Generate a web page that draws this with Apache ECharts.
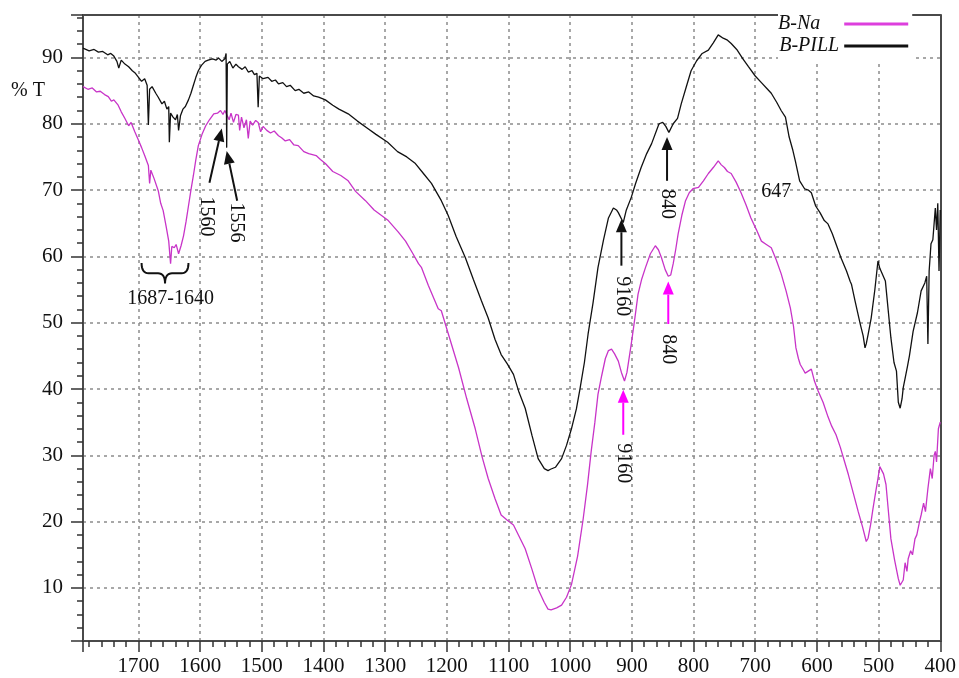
<!DOCTYPE html>
<html><head><meta charset="utf-8">
<script src="https://cdn.jsdelivr.net/npm/echarts@6/dist/echarts.min.js"></script>
<style>html,body{margin:0;padding:0;background:#fff}#c{width:959px;height:678px}</style>
</head><body><div id="c"></div><script>
// ---- data (wavenumber cm-1, % transmittance) ----
const pillWN = [1790,1780,1772,1765,1758,1750,1745,1740,1735,1732,1728,1722,1716,1710,1705,1700,1695,1690,1686,1684,1682,1678,1672,1668,1662,1658,1654,1651,1650,1648,1644,1640,1637,1635,1632,1628,1624,1619,1615,1611,1607,1603,1598,1592,1587,1580,1574,1570,1565,1560,1558,1557,1556,1552,1547,1542,1538,1532,1527,1522,1516,1512,1508,1506,1504,1498,1490,1484,1478,1473,1466,1460,1454,1446,1440,1432,1424,1416,1408,1397,1385,1375,1360,1345,1330,1315,1296,1280,1265,1251,1238,1225,1209,1198,1185,1170,1157,1144,1133,1122,1112,1102,1092,1083,1073,1062,1052,1042,1036,1032,1024,1014,1006,998,990,984,977,971,963,955,946,938,930,925,922,914,909,901,894,885,876,868,856,850,845,840,833,826,820,812,804,795,786,776,768,760,752,745,739,730,720,711,700,690,680,674,665,658,651,645,639,635,628,620,614,609,602,595,588,582,575,568,561,552,546,544,538,530,525,522,520,517,512,506,501,498,495,489,484,480,475,471,468,465,462,460,457,453,450,444,437,431,425,422,420,418,415,412,408,406,404,402,400];
const pillT = [91.4,91.0,91.2,90.8,90.9,90.4,90.6,90.2,89.4,88.4,89.6,89.0,88.6,88.0,87.6,87.0,86.4,86.8,85.8,79.8,85.2,85.6,84.6,84.0,83.0,83.4,82.2,82.6,77.2,81.6,81.0,80.6,81.4,79.0,81.2,82.2,82.6,83.6,84.6,85.8,87.0,88.0,88.8,89.4,89.6,89.8,89.6,89.9,89.4,89.8,90.6,76.4,89.0,89.4,88.4,89.0,88.6,88.2,88.6,87.8,88.0,87.4,87.6,82.5,87.2,86.8,87.0,86.4,86.6,86.0,86.2,85.6,85.8,85.0,85.2,84.6,84.8,84.2,84.0,83.6,82.8,82.2,81.5,80.4,79.4,78.4,77.2,75.8,75.0,74.0,72.5,71.0,68.4,66.2,63.0,59.8,56.5,53.3,50.7,47.5,45.2,43.8,42.2,39.5,37.1,33.0,29.5,28.0,27.7,27.9,28.2,29.5,31.5,34.0,37.0,40.1,44.0,48.3,53.0,58.3,62.5,65.8,67.3,67.0,66.6,65.1,67.0,68.9,71.0,73.4,75.5,77.0,80.0,80.2,79.6,78.7,80.0,80.8,83.0,85.5,88.0,89.5,90.6,91.1,92.2,93.4,92.9,92.6,92.1,91.2,89.8,88.6,87.2,86.2,85.2,84.6,83.2,82.0,81.0,78.0,76.0,74.4,71.4,70.2,70.0,69.6,67.6,66.6,65.4,64.9,63.4,61.6,59.8,57.8,56.2,55.8,53.2,49.9,48.0,46.2,46.8,48.2,50.7,55.0,59.3,58.2,58.0,56.3,51.5,47.7,44.0,42.7,38.0,37.1,38.5,40.2,41.6,43.5,45.0,48.7,51.5,54.8,56.0,57.0,46.8,57.8,61.9,62.5,67.3,64.0,68.0,57.8,67.0];

const naWN = [1790,1782,1775,1768,1762,1755,1749,1744,1740,1733,1728,1722,1716,1712,1706,1700,1695,1690,1684,1682,1680,1675,1668,1664,1660,1655,1651,1649,1648,1646,1642,1639,1635,1631,1627,1623,1619,1615,1611,1607,1603,1597,1591,1585,1578,1572,1567,1563,1560,1557,1553,1550,1546,1542,1538,1536,1533,1529,1525,1522,1519,1515,1510,1506,1502,1498,1492,1486,1480,1473,1468,1462,1455,1448,1441,1432,1424,1412,1405,1397,1385,1372,1360,1348,1332,1318,1295,1279,1267,1255,1246,1241,1230,1214,1209,1195,1181,1168,1154,1143,1133,1122,1112,1102,1092,1083,1073,1062,1052,1042,1036,1031,1022,1014,1006,998,988,979,972,966,960,955,949,943,938,933,928,922,917,912,908,901,895,890,884,878,870,862,857,852,846,841,837,833,829,825,819,813,807,801,792,784,776,768,760,755,750,745,739,731,723,715,707,698,690,682,674,666,658,650,643,638,634,630,627,622,619,614,609,604,598,590,582,576,569,562,555,549,541,533,526,520,517,513,509,505,501,498,496,492,488,484,480,474,468,465,463,460,457,454,452,448,445,441,438,434,431,427,424,420,416,413,410,408,406,403,400];
const naT = [85.6,85.2,85.4,84.8,84.9,84.4,84.1,83.4,83.6,82.8,81.8,80.8,79.7,80.2,78.8,77.5,76.4,75.2,73.7,71.0,73.0,71.8,69.9,68.0,66.9,64.4,62.3,60.0,58.9,61.5,61.3,61.8,60.4,61.6,63.1,65.2,67.6,70.0,72.2,74.6,76.7,78.4,79.7,80.6,81.5,81.6,82.0,81.4,82.0,81.7,80.6,81.6,80.2,81.4,81.3,79.0,81.0,79.4,80.6,77.8,80.4,79.8,80.5,80.2,78.8,79.6,79.0,78.6,78.9,78.2,77.9,77.4,77.6,76.8,76.7,75.8,75.5,75.2,74.6,74.0,72.8,72.2,71.4,69.8,68.4,67.0,65.4,63.7,62.3,60.4,58.9,58.3,55.6,52.1,51.8,47.5,43.2,38.6,34.0,29.8,26.5,23.5,21.0,20.2,19.5,17.8,15.9,12.8,9.8,7.8,6.8,6.7,7.0,7.4,8.6,10.5,14.8,20.4,25.5,30.6,35.0,39.2,42.0,44.6,45.8,46.0,45.3,44.2,42.5,41.2,42.5,46.8,50.8,54.3,56.6,58.3,60.4,61.6,61.0,59.8,58.0,57.0,57.2,58.9,61.0,63.4,66.2,68.4,69.6,70.2,70.4,71.4,72.5,73.4,74.4,73.8,73.4,72.8,72.5,71.2,69.6,67.8,65.8,64.0,62.3,61.8,61.3,59.5,57.4,54.8,52.2,49.5,46.2,44.6,43.7,42.9,42.4,42.7,43.0,41.2,39.7,38.0,35.8,34.4,33.1,31.2,29.0,27.1,24.3,21.5,19.2,17.0,17.5,19.5,22.0,24.3,26.5,28.3,28.6,27.2,25.6,21.5,17.4,14.2,11.4,10.4,10.6,11.2,13.8,12.5,14.4,15.6,15.0,17.4,18.0,19.8,21.0,22.8,21.5,25.0,28.0,26.5,30.0,30.6,29.0,34.0,35.0];

const seriesNames = ['B-Na', 'B-PILL'];
const xTickLabels = [1700,1600,1500,1400,1300,1200,1100,1000,900,800,700,600,500,400];
const yTickLabels = [10,20,30,40,50,60,70,80,90];

// annotations in data coordinates [wavenumber, %T]
const arrows = [
  {from:[1585,71.1], to:[1565,79.3], color:'#111'},
  {from:[1540,68.4], to:[1557,75.9], color:'#111'},
  {from:[917,58.6], to:[917,65.6], color:'#111'},
  {from:[843,71.4], to:[843,78.0], color:'#111'},
  {from:[841,49.8], to:[841,56.2], color:'#ff00ff'},
  {from:[914,33.1], to:[914,39.9], color:'#ff00ff'}
];
const labels = [
  {text:'1560', at:[1590,66.0], rot:true},
  {text:'1556', at:[1541,65.1], rot:true},
  {text:'9160', at:[916,54.0], rot:true},
  {text:'840', at:[843,67.9], rot:true},
  {text:'840', at:[841,46.0], rot:true},
  {text:'9160', at:[914,28.8], rot:true},
  {text:'647', at:[666,69.8], rot:false},
  {text:'1687-1640', at:[1648,53.6], rot:false}
];
const brace = {from:1695, to:1619, top:59.0, tip:55.9};

const FONT = 'Liberation Serif';
const XMIN = 400, XMAX = 1790, YMIN = 2, YMAX = 96.4;
const grid = {left:83, right:16, top:15, bottom:37};
const axisLineStyle = {color:'#4a4a4a', width:2};

const option = {
  animation:false,
  backgroundColor:'#fff',
  grid: grid,
  legend: {
    orient:'vertical', left:778, top:14, align:'right',
    backgroundColor:'#fff', padding:[0,4,4,0], itemGap:2,
    itemWidth:64, itemHeight:3, icon:'rect',
    textStyle:{fontFamily:FONT, fontStyle:'italic', fontSize:20, color:'#111', lineHeight:20},
    data:[
      {name:seriesNames[0], itemStyle:{color:'#dd3fdd'}, textStyle:{padding:[0,19,0,0]}},
      {name:seriesNames[1], itemStyle:{color:'#111'}}
    ]
  },
  xAxis: [
    {type:'value', min:XMIN, max:XMAX, inverse:true, interval:100, position:'bottom',
     axisLine:{show:true, lineStyle:axisLineStyle},
     axisTick:{show:true, length:11, lineStyle:{color:'#333', width:1.5}},
     axisLabel:{margin:15, fontFamily:FONT, fontSize:21, color:'#111',
       formatter: v => xTickLabels.includes(v) ? String(v) : ''},
     splitLine:{show:true, lineStyle:{color:'#8c8c8c', type:[3,4], width:1.5}}},
    {type:'value', min:XMIN, max:XMAX, inverse:true, interval:20, position:'bottom',
     axisLine:{show:false}, axisTick:{show:true, length:6, lineStyle:{color:'#333', width:1.5}},
     axisLabel:{show:false}, splitLine:{show:false}},
    {type:'value', min:XMIN, max:XMAX, inverse:true, position:'top',
     axisLine:{show:true, lineStyle:axisLineStyle}, axisTick:{show:false},
     axisLabel:{show:false}, splitLine:{show:false}}
  ],
  yAxis: [
    {type:'value', min:YMIN, max:YMAX, splitNumber:10, position:'left',
     axisLine:{show:true, lineStyle:axisLineStyle},
     axisTick:{show:true, length:12, lineStyle:{color:'#333', width:1.5}},
     axisLabel:{margin:20, fontFamily:FONT, fontSize:21, color:'#111',
       formatter: v => yTickLabels.includes(v) ? String(v) : ''},
     splitLine:{show:true, lineStyle:{color:'#8c8c8c', type:[3,4], width:1.5}}},
    {type:'value', min:YMIN, max:YMAX, interval:2, position:'left',
     axisLine:{show:false}, axisTick:{show:true, length:6, lineStyle:{color:'#333', width:1.5}},
     axisLabel:{show:false}, splitLine:{show:false}},
    {type:'value', min:YMIN, max:YMAX, position:'right',
     axisLine:{show:true, lineStyle:axisLineStyle}, axisTick:{show:false},
     axisLabel:{show:false}, splitLine:{show:false}}
  ],
  series: [
    {name:seriesNames[0], type:'line', xAxisIndex:0, yAxisIndex:0, showSymbol:false, symbol:'none',
     lineStyle:{color:'#c834c8', width:1.3}, itemStyle:{color:'#c834c8'},
     data: naWN.map((w,i)=>[w, naT[i]])},
    {name:seriesNames[1], type:'line', xAxisIndex:0, yAxisIndex:0, showSymbol:false, symbol:'none',
     lineStyle:{color:'#111', width:1.3}, itemStyle:{color:'#111'},
     data: pillWN.map((w,i)=>[w, pillT[i]])}
  ]
};

const chart = echarts.init(document.getElementById('c'), null, {renderer:'canvas'});
chart.setOption(option);

const px = (p) => chart.convertToPixel({xAxisIndex:0, yAxisIndex:0}, p);
const g = [];
arrows.forEach(a => {
  const p0 = px(a.from), p1 = px(a.to);
  const dx = p1[0]-p0[0], dy = p1[1]-p0[1], L = Math.hypot(dx,dy), ux = dx/L, uy = dy/L;
  const hl = 13, hw = 5.5;
  const bx = p1[0]-ux*hl, by = p1[1]-uy*hl;
  g.push({type:'line', z:100, shape:{x1:p0[0], y1:p0[1], x2:bx, y2:by}, style:{stroke:a.color, lineWidth:2}});
  g.push({type:'polygon', z:100, shape:{points:[[p1[0],p1[1]],[bx-uy*hw, by+ux*hw],[bx+uy*hw, by-ux*hw]]}, style:{fill:a.color}});
});
labels.forEach(l => {
  const p = px(l.at);
  g.push({type:'text', z:100, x:p[0], y:p[1], rotation: l.rot ? -Math.PI/2 : 0,
    style:{text:l.text, fill:'#111', font:'20px "Liberation Serif"', align:'center', verticalAlign:'middle'}});
});
(function(){
  const a = px([brace.from, brace.top]), b = px([brace.to, brace.top]), t = px([(brace.from+brace.to)/2, brace.tip]);
  const x0 = a[0], x1 = b[0], y0 = a[1], xc = t[0], yt = t[1], ym = (y0+yt)/2, r = 7;
  const q = (p0, c, p1) => { const out=[]; for (let i=0;i<=8;i++){ const s=i/8; out.push([(1-s)*(1-s)*p0[0]+2*s*(1-s)*c[0]+s*s*p1[0], (1-s)*(1-s)*p0[1]+2*s*(1-s)*c[1]+s*s*p1[1]]); } return out; };
  const pts = [].concat(
    q([x0,y0],[x0,ym],[x0+r,ym]),
    q([xc-r,ym],[xc,ym],[xc,yt]),
    q([xc,yt],[xc,ym],[xc+r,ym]),
    q([x1-r,ym],[x1,ym],[x1,y0])
  );
  g.push({type:'polyline', z:100, shape:{points:pts}, style:{stroke:'#111', lineWidth:2, fill:null}});
})();
const yl = px([XMAX, 85.0]);
g.push({type:'text', z:100, x:28, y:yl[1], style:{text:'% T', fill:'#111', font:'20px "Liberation Serif"', align:'center', verticalAlign:'middle'}});
chart.setOption({graphic: g});
</script></body></html>
